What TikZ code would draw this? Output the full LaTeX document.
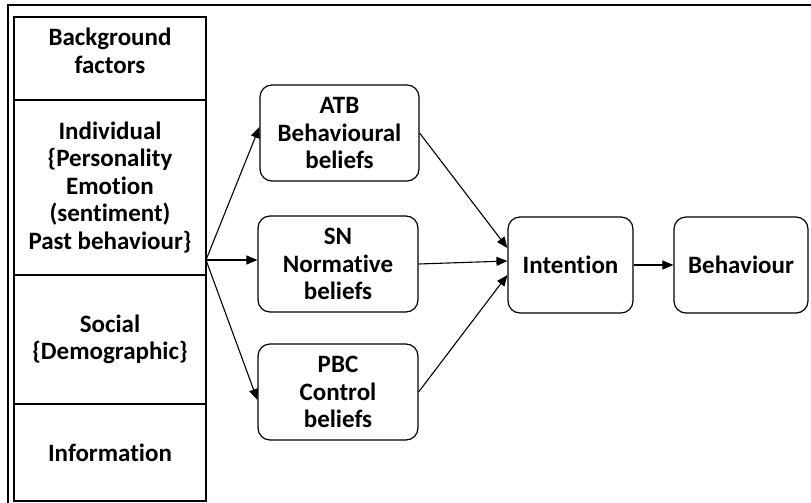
\documentclass[tikz,border=0pt]{standalone}
\usepackage{fontspec}
\setmainfont{Carlito}[Ligatures=NoCommon]
\usetikzlibrary{arrows.meta}
\begin{document}
\begin{tikzpicture}[x=1pt,y=-1pt,
  txt/.style={font=\bfseries\fontsize{25}{27.5}\selectfont, align=center, inner sep=0pt},
  colbox/.style={draw, line width=1.3pt, minimum width=192pt, inner sep=0pt, txt},
  rbox/.style={draw, line width=1.2pt, rounded corners=12pt, minimum height=96pt, inner sep=0pt, txt},
  arr/.style={line width=1.1pt, -{Triangle[length=11pt,width=9pt]}}
]
\useasboundingbox (0,0) rectangle (811,503);
% outer frame (top and left edges)
\draw[line width=1.2pt] (8,503) -- (8,5) -- (811,5);

% column of background factors
\node[colbox, minimum height=83pt]  (bg)  at (110,58.5) {};
\node[txt] (bgtext) at (110,51) {Background\\factors};
\node[colbox, minimum height=175pt] (ind) at (110,187.5) {Individual\\\{Personality\\Emotion\\(sentiment)\\Past behaviour\}};
\node[colbox, minimum height=129pt] (soc) at (110,339.5) {Social\\\{Demographic\}};
\node[colbox, minimum height=97pt]  (inf) at (110,452.5) {Information};
\draw[line width=2pt] (206,17) -- (206,404);

% belief boxes
\node[rbox, minimum width=159pt] (atb) at (339.5,133) {ATB\\Behavioural\\beliefs};
\node[rbox, minimum width=160pt] (sn)  at (338,264) {SN\\Normative\\beliefs};
\node[rbox, minimum width=160pt] (pbc) at (338,392) {PBC\\Control\\beliefs};
\node[rbox, minimum width=125pt] (int) at (570.5,265) {Intention};
\node[rbox, minimum width=134pt] (beh) at (741,265) {Behaviour};

% connectors
\coordinate (src) at (206,260);
\draw[arr] (src) -- ([yshift=6pt]atb.west);
\draw[arr] (src) -- (src -| sn.west);
\draw[arr] (src) -- ([yshift=-8pt]pbc.west);
\draw[arr] (atb.east) -- ([yshift=17pt]int.west);
\draw[arr] (sn.east) -- ([yshift=4pt]int.west);
\draw[arr] (pbc.east) -- ([yshift=-10pt]int.west);
\draw[arr] (int.east) -- (beh.west);
\end{tikzpicture}
\end{document}
